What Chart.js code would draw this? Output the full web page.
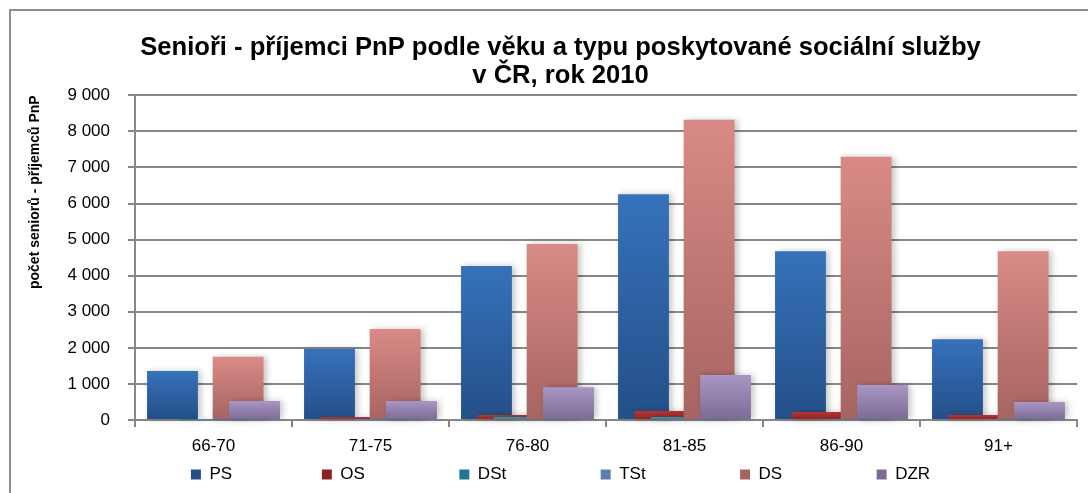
<!DOCTYPE html>
<html>
<head>
<meta charset="utf-8">
<script src="https://cdn.jsdelivr.net/npm/chart.js@4/dist/chart.umd.min.js"></script>
<style>
  html, body { margin: 0; padding: 0; background: #fff; overflow: hidden; }
  #wrap { width: 1088px; height: 493px; position: relative; }
</style>
</head>
<body>
<div id="wrap"><canvas id="chart"></canvas></div>
<script>
// age groups and counts
const ageGroups = ['66-70', '71-75', '76-80', '81-85', '86-90', '91+'];
const psValues  = [1360, 1970, 4270, 6260, 4680, 2240];
const osValues  = [30, 80, 140, 250, 220, 140];
const dstValues = [5, 20, 80, 85, 30, 30];
const tstValues = [5, 10, 20, 20, 10, 10];
const dsValues  = [1750, 2520, 4880, 8320, 7300, 4680];
const dzrValues = [530, 530, 910, 1250, 970, 500];

const gridGrey = '#878787';
const legendSlots = [133, 136, 141, 138, 136];  // distance between legend markers, px

// vertical gradient per bar, lighter at the top (legend gets the plain colour)
function barFill(top, bottom, plain) {
  return (ctx) => {
    const chart = ctx.chart;
    if (ctx.type !== 'data' || !chart.chartArea) return plain;
    const y = chart.scales.y;
    const yTop = y.getPixelForValue(ctx.raw);
    const yBase = y.getPixelForValue(0);
    if (!isFinite(yTop) || yBase - yTop < 2) return bottom;
    const g = chart.ctx.createLinearGradient(0, yTop, 0, yBase);
    g.addColorStop(0, top);
    g.addColorStop(1, bottom);
    return g;
  };
}

const series = [
  { label: 'PS',  data: psValues,  fill: barFill('#3672bb', '#244f88', '#2f62a4') },
  { label: 'OS',  data: osValues,  fill: barFill('#b53535', '#8c2323', '#a83131') },
  { label: 'DSt', data: dstValues, fill: barFill('#2f9cbb', '#1f7892', '#2a94b2') },
  { label: 'TSt', data: tstValues, fill: barFill('#7fa0d0', '#5f7fae', '#7898c8') },
  { label: 'DS',  data: dsValues,  fill: barFill('#d98a86', '#a66461', '#d3817e') },
  { label: 'DZR', data: dzrValues, fill: barFill('#a897c4', '#7a6a94', '#9686b6') }
];

const tickFont = { family: '"Liberation Sans", Arial, sans-serif', size: 17 };

const framePlugin = {
  id: 'frame',
  // white page, grey frame on the left and top
  beforeDraw(chart) {
    const c = chart.ctx;
    c.save();
    c.fillStyle = '#fff';
    c.fillRect(0, 0, chart.width, chart.height);
    c.strokeStyle = '#8e8e8e';
    c.lineWidth = 2;
    c.beginPath();
    c.moveTo(10, chart.height);
    c.lineTo(10, 10);
    c.lineTo(chart.width, 10);
    c.stroke();
    c.restore();
  },
  // draw series in their own order so later ones overlap earlier ones, with a soft shadow
  beforeDatasetsDraw(chart) {
    const c = chart.ctx;
    c.save();
    c.shadowColor = 'rgba(0,0,0,0.22)';
    c.shadowBlur = 6;
    c.shadowOffsetX = 3;
    for (let i = 0; i < chart.data.datasets.length; i++) {
      const meta = chart.getDatasetMeta(i);
      if (meta.visible !== false) meta.controller.draw();
    }
    c.restore();
    return false;
  }
};

new Chart(document.getElementById('chart'), {
  type: 'bar',
  data: {
    labels: ageGroups,
    datasets: series.map((s) => ({
      label: s.label,
      data: s.data,
      backgroundColor: s.fill,
      borderWidth: 0,
      categoryPercentage: 0.627,
      barPercentage: 3.1
    }))
  },
  options: {
    responsive: true,
    maintainAspectRatio: false,
    animation: false,
    layout: { padding: { left: 44, right: 11, top: 10, bottom: 0 } },
    plugins: {
      title: {
        display: true,
        text: ['Senioři - příjemci PnP podle věku a typu poskytované sociální služby', 'v ČR, rok 2010'],
        color: '#000',
        font: { family: '"Liberation Sans", Arial, sans-serif', size: 25.6, weight: 'bold', lineHeight: 1.1 },
        padding: { top: 24, bottom: 5 }
      },
      legend: {
        position: 'bottom',
        labels: {
          color: '#000',
          boxWidth: 10,
          boxHeight: 10,
          padding: 0,
          font: tickFont,
          // pad labels with trailing spaces so the markers sit apart as in the original
          generateLabels(chart) {
            const items = Chart.defaults.plugins.legend.labels.generateLabels(chart);
            const c = chart.ctx;
            c.save();
            c.font = '17px "Liberation Sans", Arial, sans-serif';
            const sp = c.measureText(' ').width;
            items.forEach((item, i) => {
              if (i >= legendSlots.length) return;
              const room = legendSlots[i] - 10 - 8.5 - c.measureText(item.text).width;
              item.text += ' '.repeat(Math.max(0, Math.round(room / sp)));
            });
            c.restore();
            return items;
          }
        }
      },
      tooltip: { enabled: false }
    },
    scales: {
      x: {
        grid: { display: true, drawOnChartArea: false, color: gridGrey, lineWidth: 2, tickLength: 7 },
        border: { color: gridGrey, width: 2 },
        ticks: { color: '#000', padding: 11, font: { family: '"Liberation Sans", Arial, sans-serif', size: 17, lineHeight: 1 } }
      },
      y: {
        min: 0,
        max: 9000,
        afterFit: (axis) => { axis.width = 91; },
        grid: { color: gridGrey, lineWidth: 2, tickLength: 7 },
        border: { color: gridGrey, width: 2 },
        ticks: {
          stepSize: 1000,
          color: '#000',
          padding: 18,
          font: tickFont,
          callback: (v) => String(v).replace(/\B(?=(\d{3})+(?!\d))/g, ' ')
        },
        title: {
          display: true,
          text: 'počet seniorů - příjemců PnP',
          align: 'end',
          color: '#000',
          font: { family: '"Liberation Sans", Arial, sans-serif', size: 14, weight: 'bold' },
          padding: { top: -17, bottom: 0 }
        }
      }
    }
  },
  plugins: [framePlugin]
});
</script>
</body>
</html>
